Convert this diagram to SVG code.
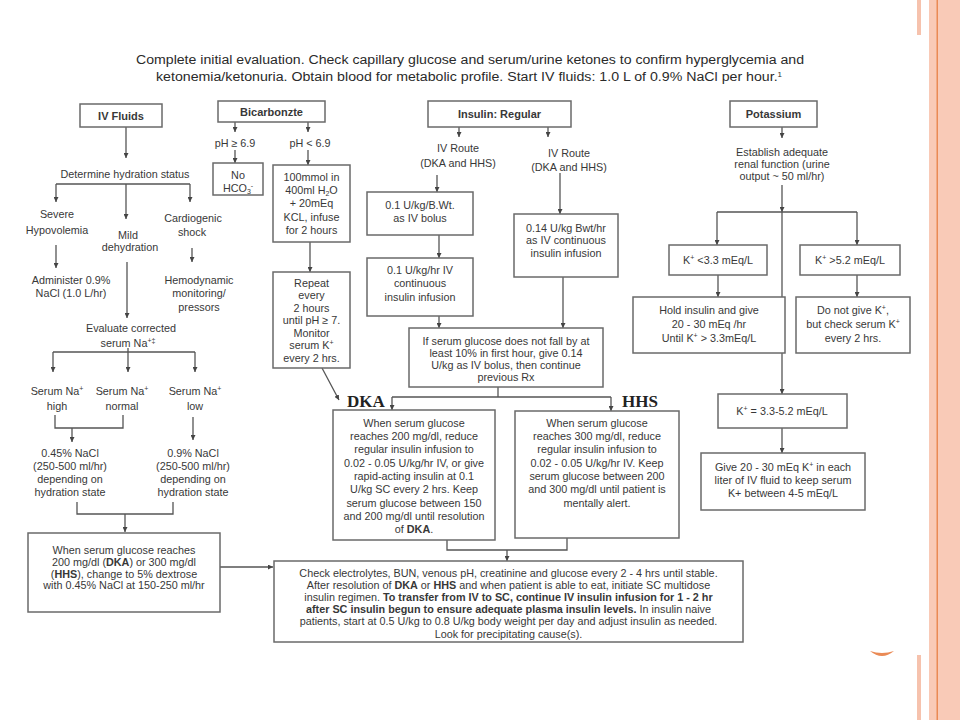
<svg xmlns="http://www.w3.org/2000/svg" width="960" height="720" viewBox="0 0 960 720">
<style>
.b{fill:#fff;stroke:#6a6a6a;stroke-width:1.5}
.l{fill:none;stroke:#555;stroke-width:1.3}
.t{font-family:"Liberation Sans",Arial,sans-serif;font-size:10.8px;fill:#383838;text-anchor:middle}
.h{font-weight:bold;font-size:11px}
.bd{font-weight:bold}
.ti{font-family:"Liberation Sans",Arial,sans-serif;font-size:12.5px;fill:#2a2a2a;text-anchor:middle}
.lab{font-family:"Liberation Serif","Times New Roman",serif;font-weight:bold;font-size:17px;fill:#222}
</style>
<defs>
<marker id="a" viewBox="0 0 6 6" markerWidth="5" markerHeight="5" markerUnits="userSpaceOnUse" refX="6" refY="3" orient="auto">
<path d="M0,0 L6,3 L0,6 z" fill="#444"/>
</marker>
</defs>
<rect x="0" y="0" width="960" height="720" fill="#fff"/>
<g id="decor">
<rect x="917" y="0" width="4" height="35" fill="#f6c2ad"/>
<rect x="917" y="655" width="4" height="65" fill="#f6c2ad"/>
<rect x="929" y="0" width="31" height="720" fill="#f9cab7"/>
<rect x="936.5" y="0" width="1.5" height="720" fill="#ea8a55"/>
<path d="M870,651 Q882,661 894,651 Q882,655 870,651 Z" fill="#ea8a55"/>
</g>
<g id="title">
<text class="ti" x="470" y="64" textLength="668" lengthAdjust="spacingAndGlyphs">Complete initial evaluation. Check capillary glucose and serum/urine ketones to confirm hyperglycemia and</text>
<text class="ti" x="469" y="81" textLength="626" lengthAdjust="spacingAndGlyphs">ketonemia/ketonuria. Obtain blood for metabolic profile. Start IV fluids: 1.0 L of 0.9% NaCl per hour.<tspan font-size="7" dy="-4">1</tspan></text>
</g>
<g id="connectors">
<path class="l" d="M126,127 V158" marker-end="url(#a)"/>
<path class="l" d="M56,184 H190"/>
<path class="l" d="M56,184 V202" marker-end="url(#a)"/>
<path class="l" d="M190,184 V202" marker-end="url(#a)"/>
<path class="l" d="M126,184 V219" marker-end="url(#a)"/>
<path class="l" d="M56,245 V268" marker-end="url(#a)"/>
<path class="l" d="M192,248 V262" marker-end="url(#a)"/>
<path class="l" d="M127,262 V318" marker-end="url(#a)"/>
<path class="l" d="M53,352 H195"/>
<path class="l" d="M53,352 V372" marker-end="url(#a)"/>
<path class="l" d="M195,352 V372" marker-end="url(#a)"/>
<path class="l" d="M128,348 V372" marker-end="url(#a)"/>
<path class="l" d="M55,415 V428 H123 V415"/>
<path class="l" d="M72,428 V442" marker-end="url(#a)"/>
<path class="l" d="M193,417 V440" marker-end="url(#a)"/>
<path class="l" d="M77,502 V514 H173 V502"/>
<path class="l" d="M125,514 V532" marker-end="url(#a)"/>
<path class="l" d="M220,567 H273" marker-end="url(#a)"/>
<path class="l" d="M235,122 V132" marker-end="url(#a)"/>
<path class="l" d="M235,150 V163" marker-end="url(#a)"/>
<path class="l" d="M308,122 V132" marker-end="url(#a)"/>
<path class="l" d="M308,150 V165" marker-end="url(#a)"/>
<path class="l" d="M310,242 V272" marker-end="url(#a)"/>
<path class="l" d="M322,368 L339,400" marker-end="url(#a)"/>
<path class="l" d="M459,127 V137" marker-end="url(#a)"/>
<path class="l" d="M548,127 V137" marker-end="url(#a)"/>
<path class="l" d="M437,175 V192" marker-end="url(#a)"/>
<path class="l" d="M439,235 V258" marker-end="url(#a)"/>
<path class="l" d="M439,316 V328" marker-end="url(#a)"/>
<path class="l" d="M560,173 V214" marker-end="url(#a)"/>
<path class="l" d="M563,277 V328" marker-end="url(#a)"/>
<path class="l" d="M498,387 V397"/>
<path class="l" d="M392,397 H611"/>
<path class="l" d="M392,397 V410" marker-end="url(#a)"/>
<path class="l" d="M611,397 V411" marker-end="url(#a)"/>
<path class="l" d="M447,540 V550 H567 V538"/>
<path class="l" d="M507,550 V561" marker-end="url(#a)"/>
<path class="l" d="M782,127 V138" marker-end="url(#a)"/>
<path class="l" d="M782,185 V212" marker-end="url(#a)"/>
<path class="l" d="M717,212 H857"/>
<path class="l" d="M717,212 V245" marker-end="url(#a)"/>
<path class="l" d="M857,212 V245" marker-end="url(#a)"/>
<path class="l" d="M782,212 V394" marker-end="url(#a)"/>
<path class="l" d="M718,275 V297" marker-end="url(#a)"/>
<path class="l" d="M857,275 V297" marker-end="url(#a)"/>
<path class="l" d="M782,428 V453" marker-end="url(#a)"/>
</g>
<g id="ivfluids">
<rect class="b" x="80" y="104" width="82" height="23"/>
<text class="t h" x="121" y="119.5">IV Fluids</text>
</g>
<g id="hydration">
<text class="t" x="125" y="177.5">Determine hydration status</text>
</g>
<g id="severe">
<text class="t" x="57" y="218">Severe</text>
<text class="t" x="57" y="234">Hypovolemia</text>
</g>
<g id="mild">
<text class="t" x="128" y="239">Mild</text>
<text class="t" x="130" y="251">dehydration</text>
</g>
<g id="cardiogenic">
<text class="t" x="193" y="222">Cardiogenic</text>
<text class="t" x="192" y="236">shock</text>
</g>
<g id="administer">
<text class="t" x="71" y="284">Administer 0.9%</text>
<text class="t" x="71" y="297">NaCl (1.0 L/hr)</text>
</g>
<g id="hemodynamic">
<text class="t" x="199" y="284">Hemodynamic</text>
<text class="t" x="199" y="297">monitoring/</text>
<text class="t" x="199" y="310.5">pressors</text>
</g>
<g id="evaluate">
<text class="t" x="131" y="332">Evaluate corrected</text>
<text class="t" x="128" y="346.5">serum Na<tspan font-size="7" dy="-4">+‡</tspan></text>
</g>
<g id="nahigh">
<text class="t" x="57" y="395">Serum Na<tspan font-size="7" dy="-4">+</tspan></text>
<text class="t" x="57" y="410">high</text>
</g>
<g id="nanormal">
<text class="t" x="122" y="395">Serum Na<tspan font-size="7" dy="-4">+</tspan></text>
<text class="t" x="122" y="410">normal</text>
</g>
<g id="nalow">
<text class="t" x="195" y="395">Serum Na<tspan font-size="7" dy="-4">+</tspan></text>
<text class="t" x="195" y="410">low</text>
</g>
<g id="nacl045">
<text class="t" x="70" y="457">0.45% NaCl</text>
<text class="t" x="70" y="470">(250-500 ml/hr)</text>
<text class="t" x="70" y="483">depending on</text>
<text class="t" x="70" y="496">hydration state</text>
</g>
<g id="nacl09">
<text class="t" x="193" y="457">0.9% NaCl</text>
<text class="t" x="193" y="470">(250-500 ml/hr)</text>
<text class="t" x="193" y="483">depending on</text>
<text class="t" x="193" y="496">hydration state</text>
</g>
<g id="dextrose">
<rect class="b" x="28" y="533" width="192" height="79"/>
<text class="t" x="124" y="554">When serum glucose  reaches</text>
<text class="t" x="124" y="566">200 mg/dl (<tspan class="bd">DKA</tspan>) or 300 mg/dl</text>
<text class="t" x="124" y="577.5">(<tspan class="bd">HHS</tspan>), change to 5% dextrose</text>
<text class="t" x="124" y="589">with 0.45% NaCl at 150-250 ml/hr</text>
</g>
<g id="bicarbonate">
<rect class="b" x="218" y="101" width="107" height="21"/>
<text class="t h" x="271.5" y="115.5">Bicarbonzte</text>
</g>
<g id="ph69hi">
<text class="t" x="235" y="146.5">pH ≥ 6.9</text>
</g>
<g id="ph69lo">
<text class="t" x="310" y="146.5">pH &lt; 6.9</text>
</g>
<g id="nohco3">
<rect class="b" x="213" y="163" width="50" height="32"/>
<text class="t" x="238" y="178.5">No</text>
<text class="t" x="238" y="191.5">HCO<tspan font-size="7" dy="2">3</tspan><tspan font-size="7" dy="-6">-</tspan></text>
</g>
<g id="bicarbdose">
<rect class="b" x="273" y="165" width="77" height="77"/>
<text class="t" x="311.5" y="181">100mmol in</text>
<text class="t" x="311.5" y="194">400ml H<tspan font-size="7" dy="2">2</tspan><tspan dy="-2">O</tspan></text>
<text class="t" x="311.5" y="207">+ 20mEq</text>
<text class="t" x="311.5" y="220.5">KCL, infuse</text>
<text class="t" x="311.5" y="234">for 2 hours</text>
</g>
<g id="repeat">
<rect class="b" x="273" y="272" width="77" height="96"/>
<text class="t" x="311.5" y="286.5">Repeat</text>
<text class="t" x="311.5" y="299">every</text>
<text class="t" x="311.5" y="311.5">2 hours</text>
<text class="t" x="311.5" y="324">until pH ≥ 7.</text>
<text class="t" x="311.5" y="336.5">Monitor</text>
<text class="t" x="311.5" y="349">serum K<tspan font-size="7" dy="-4">+</tspan></text>
<text class="t" x="311.5" y="361.5">every 2 hrs.</text>
</g>
<g id="insulin">
<rect class="b" x="428" y="101" width="143" height="26"/>
<text class="t h" x="499.5" y="118">Insulin: Regular</text>
</g>
<g id="ivroute1">
<text class="t" x="458" y="152">IV Route</text>
<text class="t" x="458" y="167">(DKA and HHS)</text>
</g>
<g id="ivroute2">
<text class="t" x="569" y="157">IV Route</text>
<text class="t" x="569" y="171">(DKA and HHS)</text>
</g>
<g id="bolus">
<rect class="b" x="367" y="192" width="106" height="43"/>
<text class="t" x="420" y="209">0.1 U/kg/B.Wt.</text>
<text class="t" x="420" y="222">as IV bolus</text>
</g>
<g id="infusion1">
<rect class="b" x="367" y="258" width="106" height="58"/>
<text class="t" x="420" y="274">0.1 U/kg/hr IV</text>
<text class="t" x="420" y="287">continuous</text>
<text class="t" x="420" y="300.5">insulin infusion</text>
</g>
<g id="infusion2">
<rect class="b" x="514" y="214" width="104" height="63"/>
<text class="t" x="566" y="232">0.14 U/kg Bwt/hr</text>
<text class="t" x="566" y="244">as IV continuous</text>
<text class="t" x="566" y="257">insulin infusion</text>
</g>
<g id="nofall">
<rect class="b" x="409" y="328" width="194" height="59"/>
<text class="t" x="506" y="344.5">If serum glucose does not fall by at</text>
<text class="t" x="506" y="356.5">least 10% in first hour, give 0.14</text>
<text class="t" x="506" y="368.5">U/kg as IV  bolus, then continue</text>
<text class="t" x="506" y="380.5">previous Rx</text>
</g>
<g id="dkalabel">
<text class="lab" x="347" y="407">DKA</text>
</g>
<g id="hhslabel">
<text class="lab" x="622" y="407">HHS</text>
</g>
<g id="dka">
<rect class="b" x="333" y="410" width="162" height="130"/>
<text class="t" x="414" y="427">When serum glucose</text>
<text class="t" x="414" y="440">reaches 200 mg/dl, reduce</text>
<text class="t" x="414" y="453">regular insulin infusion to</text>
<text class="t" x="414" y="466.5">0.02 - 0.05 U/kg/hr IV, or give</text>
<text class="t" x="414" y="480">rapid-acting insulin at 0.1</text>
<text class="t" x="414" y="493">U/kg SC every 2 hrs. Keep</text>
<text class="t" x="414" y="506.5">serum glucose between 150</text>
<text class="t" x="414" y="519.5">and 200 mg/dl until resolution</text>
<text class="t" x="414" y="533">of <tspan class="bd">DKA</tspan>.</text>
</g>
<g id="hhs">
<rect class="b" x="515" y="411" width="164" height="127"/>
<text class="t" x="597" y="426.5">When serum glucose</text>
<text class="t" x="597" y="440">reaches 300 mg/dl, reduce</text>
<text class="t" x="597" y="453">regular insulin infusion to</text>
<text class="t" x="597" y="466.5">0.02 - 0.05 U/kg/hr IV.  Keep</text>
<text class="t" x="597" y="480">serum glucose between 200</text>
<text class="t" x="597" y="493">and 300 mg/dl until patient is</text>
<text class="t" x="597" y="506.5">mentally alert.</text>
</g>
<g id="potassium">
<rect class="b" x="730" y="101" width="87" height="26"/>
<text class="t h" x="773.5" y="118">Potassium</text>
</g>
<g id="renal">
<text class="t" x="782" y="156">Establish adequate</text>
<text class="t" x="782" y="168">renal function (urine</text>
<text class="t" x="782" y="180">output ~ 50 ml/hr)</text>
</g>
<g id="klow">
<rect class="b" x="669" y="245" width="98" height="30"/>
<text class="t" x="718" y="264">K<tspan font-size="7" dy="-4">+</tspan><tspan dy="4"> &lt;3.3 mEq/L</tspan></text>
</g>
<g id="khigh">
<rect class="b" x="800" y="245" width="100" height="30"/>
<text class="t" x="850" y="264">K<tspan font-size="7" dy="-4">+</tspan><tspan dy="4"> &gt;5.2 mEq/L</tspan></text>
</g>
<g id="hold">
<rect class="b" x="633" y="297" width="152" height="56"/>
<text class="t" x="709" y="314">Hold insulin and give</text>
<text class="t" x="709" y="328">20 - 30 mEq /hr</text>
<text class="t" x="709" y="341.5">Until K<tspan font-size="7" dy="-4">+</tspan><tspan dy="4"> &gt; 3.3mEq/L</tspan></text>
</g>
<g id="donotgive">
<rect class="b" x="796" y="297" width="114" height="56"/>
<text class="t" x="853" y="314">Do not give K<tspan font-size="7" dy="-4">+</tspan><tspan dy="4">,</tspan></text>
<text class="t" x="853" y="328">but check serum K<tspan font-size="7" dy="-4">+</tspan></text>
<text class="t" x="853" y="341.5">every 2 hrs.</text>
</g>
<g id="knormal">
<rect class="b" x="718" y="394" width="129" height="34"/>
<text class="t" x="782" y="414.5">K<tspan font-size="7" dy="-4">+</tspan><tspan dy="4"> = 3.3-5.2 mEq/L</tspan></text>
</g>
<g id="givek">
<rect class="b" x="701" y="453" width="164" height="57"/>
<text class="t" x="783" y="471">Give 20 - 30 mEq K<tspan font-size="7" dy="-4">+</tspan><tspan dy="4"> in each</tspan></text>
<text class="t" x="783" y="484">liter of IV  fluid to keep serum</text>
<text class="t" x="783" y="497">K+ between 4-5 mEq/L</text>
</g>
<g id="final">
<rect class="b" x="274" y="561" width="469" height="81"/>
<text class="t" x="508.5" y="577">Check electrolytes, BUN, venous pH, creatinine and glucose every 2 - 4 hrs until stable.</text>
<text class="t" x="508.5" y="589">After resolution of <tspan class="bd">DKA</tspan> or <tspan class="bd">HHS</tspan> and when patient is able to eat, initiate SC multidose</text>
<text class="t" x="508.5" y="601">insulin regimen. <tspan class="bd">To transfer from IV to SC, continue IV insulin infusion for 1 - 2 hr</tspan></text>
<text class="t" x="508.5" y="613"><tspan class="bd">after SC insulin begun to ensure adequate plasma insulin levels.</tspan>  In insulin naive</text>
<text class="t" x="508.5" y="625">patients, start at 0.5 U/kg to 0.8 U/kg body weight per day and adjust insulin as needed.</text>
<text class="t" x="508.5" y="638">Look for precipitating cause(s).</text>
</g>
</svg>
